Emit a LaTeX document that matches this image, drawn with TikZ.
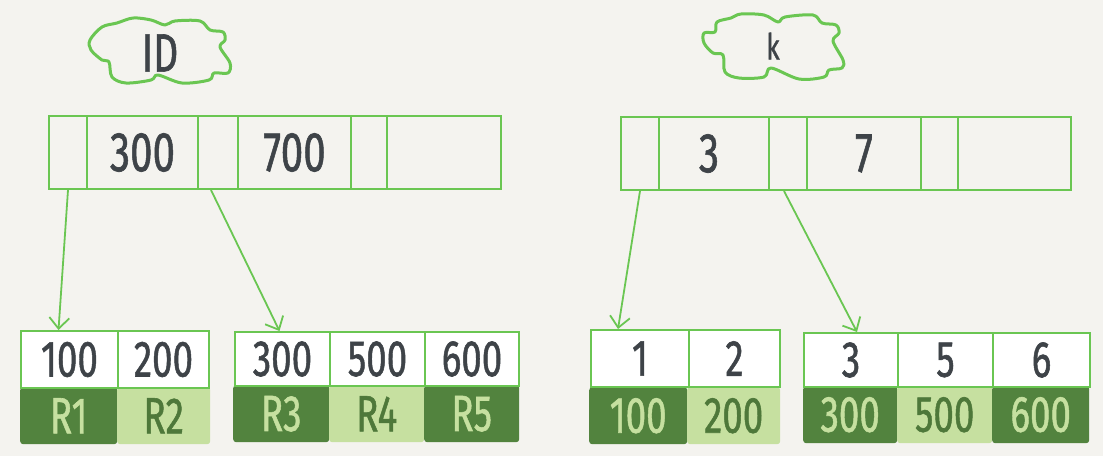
\documentclass[tikz,border=0pt]{standalone}
\usepackage{fontspec}
\usepackage{graphicx}
\setmainfont{Fira Sans}[AutoFakeBold=1.2]
\usetikzlibrary{arrows.meta}
\definecolor{bg}{RGB}{244,243,239}
\definecolor{lgreen}{RGB}{106,198,82}
\definecolor{dfill}{RGB}{82,131,62}
\definecolor{lfill}{RGB}{198,224,160}
\definecolor{ink}{RGB}{62,67,72}
\definecolor{dtext}{RGB}{78,120,58}
\newcommand\hw[1]{\scalebox{0.72}[1]{\bfseries #1}}
\begin{document}
\begin{tikzpicture}[x=1pt,y=-1pt,
  gline/.style={draw=lgreen,line width=2pt},
  topcell/.style={gline, minimum height=73pt, inner sep=0pt, anchor=north west,
    font=\fontsize{56}{56}\selectfont, text=ink},
  keycell/.style={gline, fill=white, minimum height=57pt, inner sep=0pt, anchor=north west,
    font=\fontsize{51}{51}\selectfont, text=ink},
  darkcell/.style={fill=dfill, rounded corners=3pt, minimum height=57pt, inner sep=0pt, anchor=north west,
    font=\fontsize{51}{51}\selectfont, text=lfill},
  lightcell/.style={fill=lfill, rounded corners=3pt, minimum height=57pt, inner sep=0pt, anchor=north west,
    font=\fontsize{51}{51}\selectfont, text=dtext},
  ptr/.style={draw=lgreen, line width=1.8pt, -{Straight Barb[length=11pt,width=20pt,line width=1.8pt]}},
  cloud/.style={draw=lgreen, line width=3pt, line join=round},
]
\fill[bg] (0,0) rectangle (1103,456);
\useasboundingbox (0,0) rectangle (1103,456);

% clouds
\draw[cloud] plot[smooth cycle, tension=0.55] coordinates{
 (90,40) (102,27) (117,23) (133,18) (151,20) (165,25) (175,21) (200,21) (210,30)
 (223,32) (225,40) (220,47) (230,63) (228,73) (214,73) (209,80) (182,83) (158,75)
 (151,80) (126,83) (112,77) (109,62) (102,60) (91,50)};
\node[font=\fontsize{54}{54}\selectfont, text=ink] (idlab) at (160,53) {\hw{ID}};

\draw[cloud] plot[smooth cycle, tension=0.55] coordinates{
 (704,33) (715,32) (717,22) (731,18) (741,14) (764,15) (778,22) (785,17) (813,15)
 (822,23) (836,25) (839,33) (833,41) (843,60) (842,68) (829,70) (824,77) (799,79)
 (771,68) (764,77) (739,78) (725,72) (723,55) (713,53) (704,43)};
\node[font=\fontsize{36}{36}\selectfont, text=ink] (klab) at (773,46) {\hw{k}};

% top-left node
\node[topcell, minimum width=38pt]  (tl1) at (48,115) {};
\node[topcell, minimum width=111pt] (tl2) at (86,115) {\hw{300}};
\node[topcell, minimum width=40pt]  (tl3) at (197,115) {};
\node[topcell, minimum width=113pt] (tl4) at (237,115) {\hw{700}};
\node[topcell, minimum width=36pt]  (tl5) at (350,115) {};
\node[topcell, minimum width=114pt] (tl6) at (386,115) {};

% top-right node
\node[topcell, minimum width=38pt]  (tr1) at (620,116) {};
\node[topcell, minimum width=110pt] (tr2) at (658,116) {\hspace{-10pt}\hw{3}};
\node[topcell, minimum width=38pt]  (tr3) at (768,116) {};
\node[topcell, minimum width=114pt] (tr4) at (806,116) {\hw{7}};
\node[topcell, minimum width=37pt]  (tr5) at (920,116) {};
\node[topcell, minimum width=113pt] (tr6) at (957,116) {};

% leaf 1 (ID)
\node[darkcell, minimum width=97pt]  (l1c) at (20,387) {\hw{R1}};
\node[lightcell, minimum width=93pt] (l1d) at (117,387) {\hw{R2}};
\node[keycell, minimum width=97pt] (l1a) at (20,330) {\hw{100}};
\node[keycell, minimum width=91pt] (l1b) at (117,330) {\hw{200}};

% leaf 2 (ID)
\node[darkcell, minimum width=96pt]  (l2d) at (233,385) {\hw{R3}};
\node[lightcell, minimum width=95pt] (l2e) at (329,385) {\hw{R4}};
\node[darkcell, minimum width=95pt]  (l2f) at (424,385) {\hw{R5}};
\node[keycell, minimum width=95pt, minimum height=54pt] (l2a) at (234,331) {\hw{300}};
\node[keycell, minimum width=95pt, minimum height=54pt] (l2b) at (329,331) {\hw{500}};
\node[keycell, minimum width=94pt, minimum height=54pt] (l2c) at (424,331) {\hw{600}};

% leaf 1 (k)
\node[darkcell, minimum width=98pt]  (r1c) at (589,387) {\hw{100}};
\node[lightcell, minimum width=93pt] (r1d) at (687,387) {\hw{200}};
\node[keycell, minimum width=98pt] (r1a) at (590,329) {\hw{1}};
\node[keycell, minimum width=91pt] (r1b) at (688,329) {\hw{2}};

% leaf 2 (k)
\node[darkcell, minimum width=94pt]  (r2d) at (803,386) {\hw{300}};
\node[lightcell, minimum width=95pt] (r2e) at (897,386) {\hw{500}};
\node[darkcell, minimum width=97pt]  (r2f) at (992,386) {\hw{600}};
\node[keycell, minimum width=94pt, minimum height=54pt] (r2a) at (803,332) {\hw{3}};
\node[keycell, minimum width=95pt, minimum height=54pt] (r2b) at (897,332) {\hw{5}};
\node[keycell, minimum width=97pt, minimum height=54pt] (r2c) at (992,332) {\hw{6}};

% pointers
\draw[ptr] (tl1.south) -- ([xshift=-11pt]l1a.north);
\draw[ptr] ([xshift=-7pt]tl3.south) -- ([xshift=-3pt]l2a.north);
\draw[ptr] (tr1.south) -- ([xshift=-22pt]r1a.north);
\draw[ptr] ([xshift=-4pt]tr3.south) -- ([xshift=6pt]r2a.north);
\end{tikzpicture}
\end{document}
